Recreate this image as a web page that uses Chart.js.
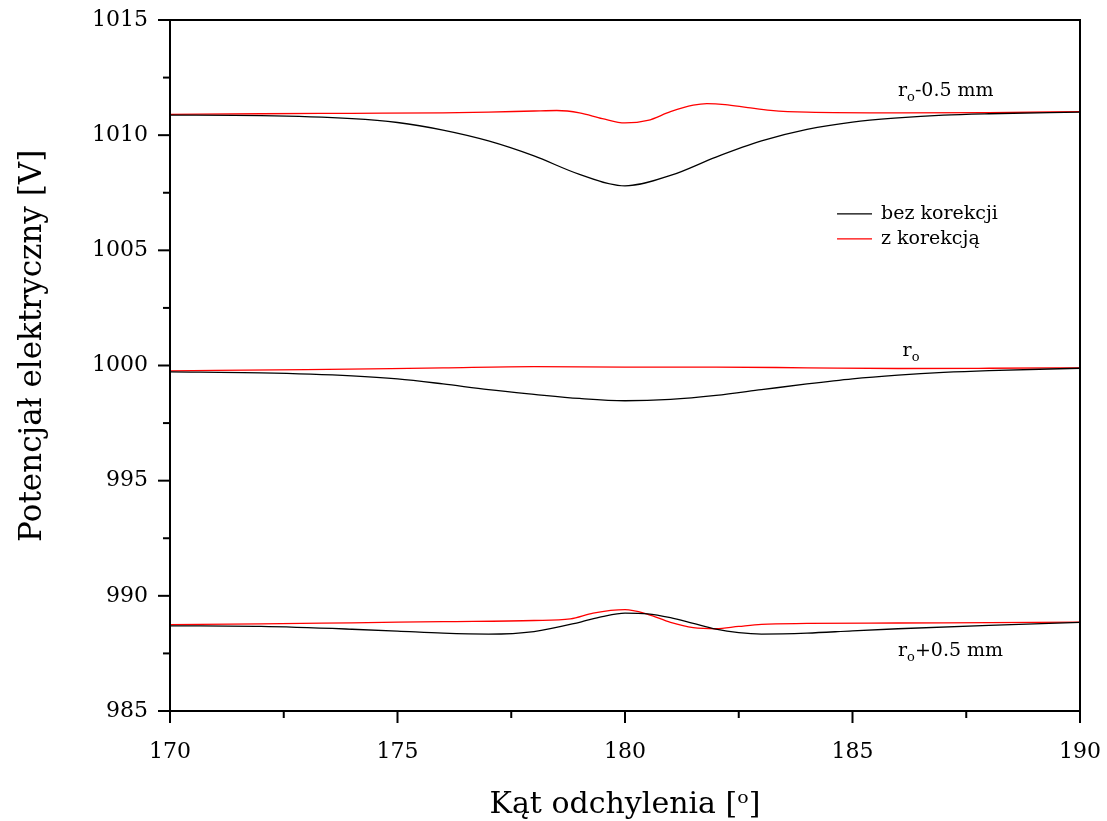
<!DOCTYPE html>
<html lang="pl">
<head>
  <meta charset="UTF-8">
  <title>Potencjał elektryczny</title>
  <script src="https://cdn.jsdelivr.net/npm/chart.js"></script>
  <style>
    body { margin: 0; background: #FFFFFF; }
    .wrap { width: 1107px; height: 821px; }
  </style>
</head>
<body>
  <div class="wrap"><canvas id="chart"></canvas></div>

  <script>
    // dane
    const topAngles      = [170, 172, 174, 175, 176, 177, 178, 179, 180, 181, 182, 183, 184, 185, 186, 187, 188, 190];
    const topBez         = [1010.87, 1010.85, 1010.72, 1010.55, 1010.22, 1009.75, 1009.1, 1008.3, 1007.8, 1008.25, 1009.05, 1009.75, 1010.25, 1010.57, 1010.75, 1010.87, 1010.93, 1011.0];
    const topKorAngles   = [170, 172, 174, 176, 177, 178, 178.5, 179, 179.5, 180, 180.5, 181, 181.5, 181.8, 182.2, 182.7, 183.2, 184, 186, 188, 190];
    const topKor         = [1010.9, 1010.93, 1010.95, 1010.97, 1011.0, 1011.05, 1011.07, 1010.97, 1010.72, 1010.53, 1010.64, 1011.02, 1011.3, 1011.37, 1011.33, 1011.2, 1011.08, 1011.0, 1010.97, 1010.98, 1011.02];

    const midAngles      = [170, 172, 174, 175, 176, 177, 178, 179, 180, 181, 182, 183, 184, 185, 186, 187, 188, 190];
    const midBez         = [999.72, 999.68, 999.55, 999.42, 999.2, 998.95, 998.75, 998.57, 998.47, 998.53, 998.7, 998.95, 999.2, 999.42, 999.58, 999.7, 999.78, 999.88];
    const midKorAngles   = [170, 173, 176, 178, 180, 182, 184, 186, 188, 190];
    const midKor         = [999.77, 999.82, 999.9, 999.95, 999.93, 999.93, 999.9, 999.87, 999.88, 999.9];

    const lowAngles      = [170, 172, 174, 175, 176, 177, 178, 179, 179.5, 180, 180.5, 181, 181.5, 182, 182.5, 183, 184, 185, 186, 188, 190];
    const lowBez         = [988.7, 988.67, 988.55, 988.47, 988.38, 988.34, 988.45, 988.85, 989.1, 989.25, 989.22, 989.05, 988.8, 988.55, 988.4, 988.34, 988.38, 988.48, 988.57, 988.72, 988.85];
    const lowKorAngles   = [170, 172, 174, 176, 178, 178.8, 179.3, 180, 180.5, 181, 181.5, 182, 182.5, 183, 184, 186, 188, 190];
    const lowKor         = [988.75, 988.78, 988.83, 988.88, 988.93, 989.0, 989.25, 989.4, 989.2, 988.85, 988.62, 988.57, 988.67, 988.76, 988.8, 988.82, 988.84, 988.86];

    const xTicks = [170, 175, 180, 185, 190];
    const yTicks = [985, 990, 995, 1000, 1005, 1010, 1015];

    const seriesLabels = ["bez korekcji", "z korekcją"];
    const curveLabels = [
      { main: "r", sub: "o", rest: "-0.5 mm", x: 186.0, y: 1011.7 },
      { main: "r", sub: "o", rest: "", x: 186.1, y: 1000.4 },
      { main: "r", sub: "o", rest: "+0.5 mm", x: 186.0, y: 987.4 }
    ];

    const FONT = "'DejaVu Serif', serif";

    function pts(xs, ys) {
      return xs.map((x, i) => ({ x: x, y: ys[i] }));
    }

    function line(label, xs, ys, color) {
      return {
        label: label,
        data: pts(xs, ys),
        borderColor: color,
        borderWidth: 1.3,
        pointRadius: 0,
        cubicInterpolationMode: "monotone",
        fill: false
      };
    }

    // ramka, podziałki, etykiety krzywych i legenda
    const decor = {
      id: "decor",
      afterDraw(chart) {
        const ctx = chart.ctx;
        const a = chart.chartArea;
        const xs = chart.scales.x;
        const ys = chart.scales.y;
        ctx.save();
        ctx.strokeStyle = "#000";
        ctx.lineWidth = 2;
        ctx.strokeRect(a.left, a.top, a.right - a.left, a.bottom - a.top);

        for (let v = 170; v <= 190; v += 2.5) {
          const px = xs.getPixelForValue(v);
          const len = (v % 5 === 0) ? 12 : 7;
          ctx.beginPath();
          ctx.moveTo(px, a.bottom);
          ctx.lineTo(px, a.bottom + len);
          ctx.stroke();
        }
        for (let v = 985; v <= 1015; v += 2.5) {
          const py = ys.getPixelForValue(v);
          const len = (v % 5 === 0) ? 12 : 7;
          ctx.beginPath();
          ctx.moveTo(a.left, py);
          ctx.lineTo(a.left - len, py);
          ctx.stroke();
        }

        // etykiety krzywych
        ctx.fillStyle = "#000";
        ctx.textBaseline = "alphabetic";
        ctx.textAlign = "left";
        curveLabels.forEach(l => {
          let px = xs.getPixelForValue(l.x);
          const py = ys.getPixelForValue(l.y);
          ctx.font = "19px " + FONT;
          ctx.fillText(l.main, px, py);
          px += ctx.measureText(l.main).width;
          ctx.font = "13px " + FONT;
          ctx.fillText(l.sub, px, py + 5);
          px += ctx.measureText(l.sub).width;
          ctx.font = "19px " + FONT;
          ctx.fillText(l.rest, px, py);
        });

        // legenda
        const lx = xs.getPixelForValue(184.66);
        const ly = ys.getPixelForValue(1006.58);
        const colors = ["#000000", "#FF0000"];
        seriesLabels.forEach((txt, i) => {
          const y = ly + i * 25;
          ctx.strokeStyle = colors[i];
          ctx.lineWidth = 1.3;
          ctx.beginPath();
          ctx.moveTo(lx, y);
          ctx.lineTo(lx + 35, y);
          ctx.stroke();
          ctx.fillStyle = "#000";
          ctx.font = "19px " + FONT;
          ctx.textBaseline = "middle";
          ctx.fillText(txt, lx + 44, y);
        });
        ctx.restore();
      }
    };

    new Chart(document.getElementById("chart"), {
      type: "line",
      data: {
        datasets: [
          line(seriesLabels[0], topAngles, topBez, "#000000"),
          line(seriesLabels[1], topKorAngles, topKor, "#FF0000"),
          line(seriesLabels[0], midAngles, midBez, "#000000"),
          line(seriesLabels[1], midKorAngles, midKor, "#FF0000"),
          line(seriesLabels[0], lowAngles, lowBez, "#000000"),
          line(seriesLabels[1], lowKorAngles, lowKor, "#FF0000")
        ]
      },
      options: {
        responsive: true,
        maintainAspectRatio: false,
        animation: false,
        layout: { padding: { top: 20, right: 27, left: 0, bottom: 0 } },
        plugins: {
          legend: { display: false },
          tooltip: { enabled: false }
        },
        scales: {
          x: {
            type: "linear",
            min: 170,
            max: 190,
            afterBuildTicks: s => { s.ticks = xTicks.map(v => ({ value: v })); },
            afterFit: s => { s.height = 110; s.paddingLeft = 0; s.paddingRight = 0; },
            grid: { display: false, drawTicks: false },
            border: { display: false },
            ticks: { color: "#000", padding: 28, font: { family: FONT, size: 22 }, callback: v => String(v) },
            title: {
              display: true,
              text: "Kąt odchylenia [ᵒ]",
              color: "#000",
              padding: { top: 36, bottom: -2 },
              font: { family: FONT, size: 30 }
            }
          },
          y: {
            type: "linear",
            min: 985,
            max: 1015,
            afterBuildTicks: s => { s.ticks = yTicks.map(v => ({ value: v })); },
            afterFit: s => { s.width = 170; s.paddingTop = 0; s.paddingBottom = 0; },
            grid: { display: false, drawTicks: false },
            border: { display: false },
            ticks: { color: "#000", padding: 22, font: { family: FONT, size: 22 }, callback: v => String(v) },
            title: {
              display: true,
              text: "\u00A0\u00A0\u00A0\u00A0Potencjał elektryczny [V]",
              color: "#000",
              padding: { top: 14, bottom: 0 },
              font: { family: FONT, size: 31 }
            }
          }
        }
      },
      plugins: [decor]
    });
  </script>
</body>
</html>
